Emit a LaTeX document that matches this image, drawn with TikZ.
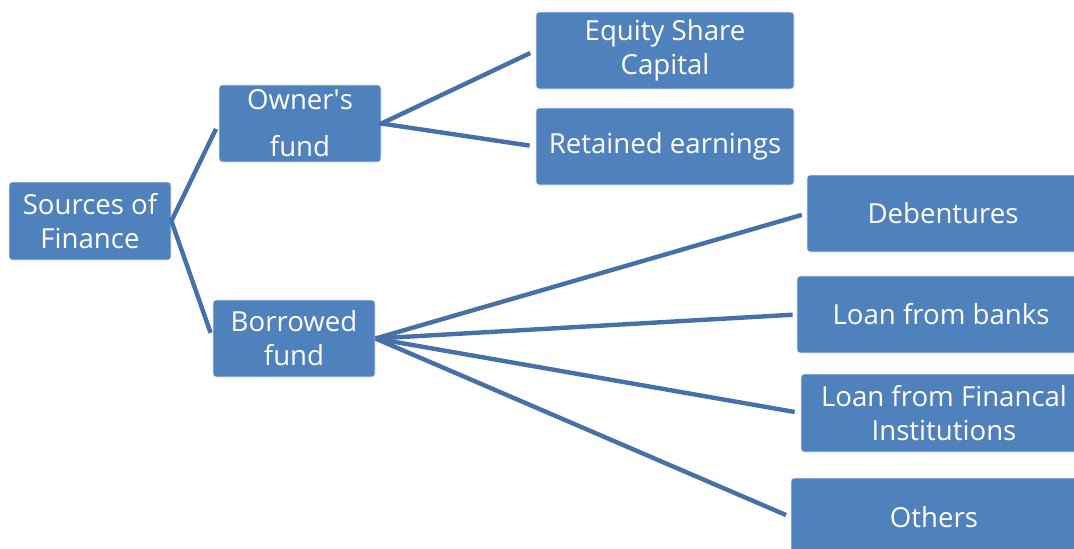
\documentclass[tikz,border=0pt]{standalone}
\usepackage{fontspec}
\setmainfont{Open Sans}
\definecolor{boxblue}{HTML}{4F81BD}
\definecolor{lineblue}{HTML}{4670A8}
\tikzset{
  fbox/.style={draw=white!85!boxblue, line width=0.4pt, fill=boxblue, rounded corners=1.5pt,
    text=white, align=center, inner sep=0pt, font=\fontsize{13.8}{17}\selectfont},
  link/.style={draw=lineblue, line width=2.2pt}
}
\begin{document}
\begin{tikzpicture}[x=0.5pt,y=-0.5pt]
      \clip (0,0) rectangle (1074,548);
      \fill[white] (0,0) rectangle (1074,548);
      \draw
        (90,221) node[fbox, minimum width=81pt, minimum height=39pt] (src){Sources of\\Finance}
        (300,123.5) node[fbox, minimum width=81pt, minimum height=38.5pt,
          font=\fontsize{13.8}{23.5}\selectfont] (own){Owner\textquotesingle s\\fund}
        (294,338.5) node[fbox, minimum width=81pt, minimum height=38.5pt] (bor){Borrowed\\fund}
        (665,50.5) node[fbox, minimum width=129pt, minimum height=38.5pt] (eq){Equity Share\\Capital}
        (665,146.5) node[fbox, minimum width=129pt, minimum height=38.5pt] (ret){Retained earnings}
        (943,213.5) node[fbox, minimum width=136pt, minimum height=38.5pt] (deb){Debentures}
        (941,314.5) node[fbox, minimum width=144pt, minimum height=38.5pt] (bank){Loan from banks}
        (944,413) node[fbox, minimum width=143pt, minimum height=39pt] (fin){Loan from Financal\\Institutions}
        (934,517) node[fbox, minimum width=143pt, minimum height=39pt] (oth){Others};
      \begin{scope}[link]
        \draw[shorten >=3pt] (src.east) to (own.west);
        \draw[shorten >=3pt] (src.east) to (bor.west);
        \draw[shorten <=-1pt, shorten >=3pt] (own.east) to (eq.west);
        \draw[shorten <=-1pt, shorten >=3pt] (own.east) to (ret.west);
        \draw[shorten >=2.5pt] (bor.east) to (deb.west);
        \draw[shorten >=2pt] (bor.east) to (bank.west);
        \draw[shorten >=3pt] (bor.east) to (fin.west);
        \draw[shorten >=2.5pt] (bor.east) to (oth.west);
      \end{scope}
    \end{tikzpicture}
\end{document}
